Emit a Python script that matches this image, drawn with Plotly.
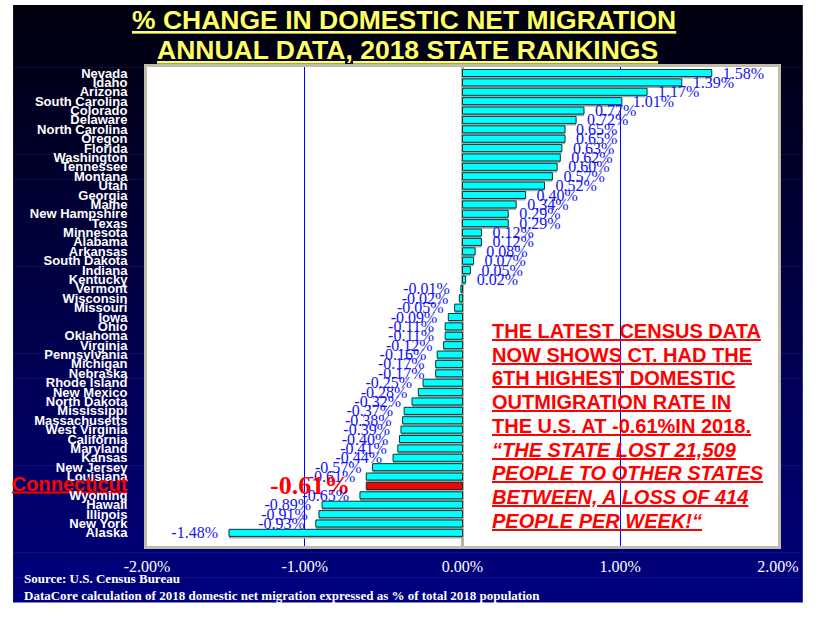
import plotly.graph_objects as go

states = ["Nevada", "Idaho", "Arizona", "South Carolina", "Colorado", "Delaware",
          "North Carolina", "Oregon", "Florida", "Washington", "Tennessee", "Montana",
          "Utah", "Georgia", "Maine", "New Hampshire", "Texas", "Minnesota", "Alabama",
          "Arkansas", "South Dakota", "Indiana", "Kentucky", "Vermont", "Wisconsin",
          "Missouri", "Iowa", "Ohio", "Oklahoma", "Virginia", "Pennsylvania", "Michigan",
          "Nebraska", "Rhode Island", "New Mexico", "North Dakota", "Mississippi",
          "Massachusetts", "West Virginia", "California", "Maryland", "Kansas",
          "New Jersey", "Louisiana", "Connecticut", "Wyoming", "Hawaii", "Illinois",
          "New York", "Alaska"]
values = [1.58, 1.39, 1.17, 1.01, 0.77, 0.72, 0.65, 0.65, 0.63, 0.62, 0.60, 0.57,
          0.52, 0.40, 0.34, 0.29, 0.29, 0.12, 0.12, 0.08, 0.07, 0.05, 0.02, -0.01,
          -0.02, -0.05, -0.09, -0.11, -0.11, -0.12, -0.16, -0.17, -0.17, -0.25, -0.28,
          -0.32, -0.37, -0.38, -0.39, -0.40, -0.41, -0.44, -0.57, -0.61, -0.61, -0.65,
          -0.89, -0.91, -0.93, -1.48]
x_tick_vals = [-2, -1, 0, 1, 2]
x_tick_text = ["-2.00%", "-1.00%", "0.00%", "1.00%", "2.00%"]
highlight = "Connecticut"

title_lines = ["% CHANGE IN DOMESTIC NET MIGRATION", "ANNUAL DATA, 2018 STATE RANKINGS"]
note_lines = ["THE LATEST CENSUS DATA", "NOW SHOWS CT. HAD THE", "6TH HIGHEST DOMESTIC",
              "OUTMIGRATION RATE IN", "THE U.S. AT -0.61%IN 2018."]
note_italic = ["“THE STATE LOST 21,509", "PEOPLE TO OTHER STATES",
               "BETWEEN, A LOSS OF 414", "PEOPLE PER WEEK!“"]
source_lines = ["Source: U.S. Census Bureau",
                "DataCore calculation of 2018 domestic net migration expressed as % of total 2018 population"]

# plot geometry in pixels
W, H = 818, 620
L, R, T, B = 142, 778, 67, 546


def px(x):
    return (x - L) / (R - L)


def py(y):
    return (B - y) / (B - T)


NB = "\u00a0\u00a0"
is_hl = [s == highlight for s in states]
bar_colors = ["#ff0000" if h else "#00ffff" for h in is_hl]
labels = []
for v, h in zip(values, is_hl):
    s = "%.2f%%" % v
    if h:
        s = "<b>%s</b>" % s
    labels.append(NB + s if v >= 0 else s + NB)
label_colors = ["#ff0000" if h else "#1414f0" for h in is_hl]
label_sizes = [26 if h else 16 for h in is_hl]

tick_text = [("<span style='color:#ff0000;font-size:20px'><u>%s</u></span>" % s) if h
             else "%s" % s for s, h in zip(states, is_hl)]
tick_text = ["<b>%s</b>" % t for t in tick_text]

fig = go.Figure()
# shadow
fig.add_trace(go.Bar(
    x=values, y=states, orientation="h", width=0.75, offset=-0.375 + 0.22,
    marker=dict(color="#a8a8a8", line=dict(width=0)), hoverinfo="skip", showlegend=False,
))
fig.add_trace(go.Bar(
    x=values, y=states, orientation="h", width=0.75,
    marker=dict(color=bar_colors, line=dict(color="#003838", width=1)),
    text=labels, textposition="outside", constraintext="none", cliponaxis=False,
    textfont=dict(family="Liberation Serif, Times New Roman, serif", size=label_sizes,
                  color=label_colors),
    showlegend=False,
))

shapes = []
# dark gradient background
x0, x1 = px(7), px(803)
top, bot = 5, 602
n = 48
for i in range(n):
    ya = top + (bot - top) * i / n
    yb = top + (bot - top) * (i + 1) / n + 0.6
    t = (i + 0.5) / n
    b = int(14 + (128 - 14) * t)
    shapes.append(dict(type="rect", xref="paper", yref="paper", x0=x0, x1=x1,
                       y0=py(yb), y1=py(ya), fillcolor="rgb(0,0,%d)" % b,
                       line=dict(width=0), layer="below"))
shapes.append(dict(type="rect", xref="paper", yref="paper", x0=0, x1=1, y0=0, y1=1,
                   fillcolor="#ffffff", line=dict(width=0), layer="below"))

annotations = []
title_pos = [(401, 20), (405, 50)]
for line, (tx, ty) in zip(title_lines, title_pos):
    annotations.append(dict(
        xref="paper", yref="paper", x=px(tx), y=py(ty), xanchor="center", yanchor="middle",
        text="<u><b>%s</b></u>" % line, showarrow=False,
        font=dict(family="Liberation Sans, Arial, sans-serif", size=26.5, color="#ffff66"),
    ))

note_all = ["<b><u>%s</u></b>" % s for s in note_lines] + \
           ["<b><u><i>%s</i></u></b>" % s for s in note_italic]
for i, s in enumerate(note_all):
    annotations.append(dict(
        xref="paper", yref="paper", x=px(488), y=py(331 + i * 23.7), xanchor="left",
        yanchor="middle", align="left", text=s, showarrow=False,
        font=dict(family="Liberation Sans, Arial, sans-serif", size=20, color="#ff0000"),
    ))

for line, ty in zip(source_lines, [578, 595]):
    annotations.append(dict(
        xref="paper", yref="paper", x=px(16), y=py(ty), xanchor="left", yanchor="middle",
        text="<b>%s</b>" % line, showarrow=False,
        font=dict(family="Liberation Serif, Times New Roman, serif", size=13, color="#ffffff"),
    ))

fig.update_layout(
    width=W, height=H,
    margin=dict(l=L, r=W - R, t=T, b=H - B, pad=0),
    paper_bgcolor="#ffffff", plot_bgcolor="rgba(0,0,0,0)",
    barmode="overlay", bargap=0.25,
    shapes=shapes, annotations=annotations,
    xaxis=dict(
        range=[-2, 2], tickmode="array", tickvals=x_tick_vals, ticktext=x_tick_text,
        showgrid=True, gridcolor="#0000ff", gridwidth=1,
        zeroline=True, zerolinecolor="#b8b4a0", zerolinewidth=3,
        showline=True, linecolor="#c0bca8", linewidth=3, mirror=True,
        ticks="", ticklabelstandoff=4,
        tickfont=dict(family="Liberation Serif, Times New Roman, serif", size=16, color="#ffffff"),
        fixedrange=True,
    ),
    yaxis=dict(
        type="category", categoryorder="array", categoryarray=states,
        range=[50.4, -0.64], tickmode="array", tickvals=states, ticktext=tick_text,
        showgrid=False, zeroline=False,
        showline=True, linecolor="#c0bca8", linewidth=3, mirror=True,
        ticks="", ticklabelstandoff=14,
        tickfont=dict(family="Liberation Sans, Arial, sans-serif", size=13, color="#ffffff"),
        fixedrange=True,
    ),
)

fig.write_html("out.html", config={"displayModeBar": False},
               post_script="document.body.style.margin='0';")
